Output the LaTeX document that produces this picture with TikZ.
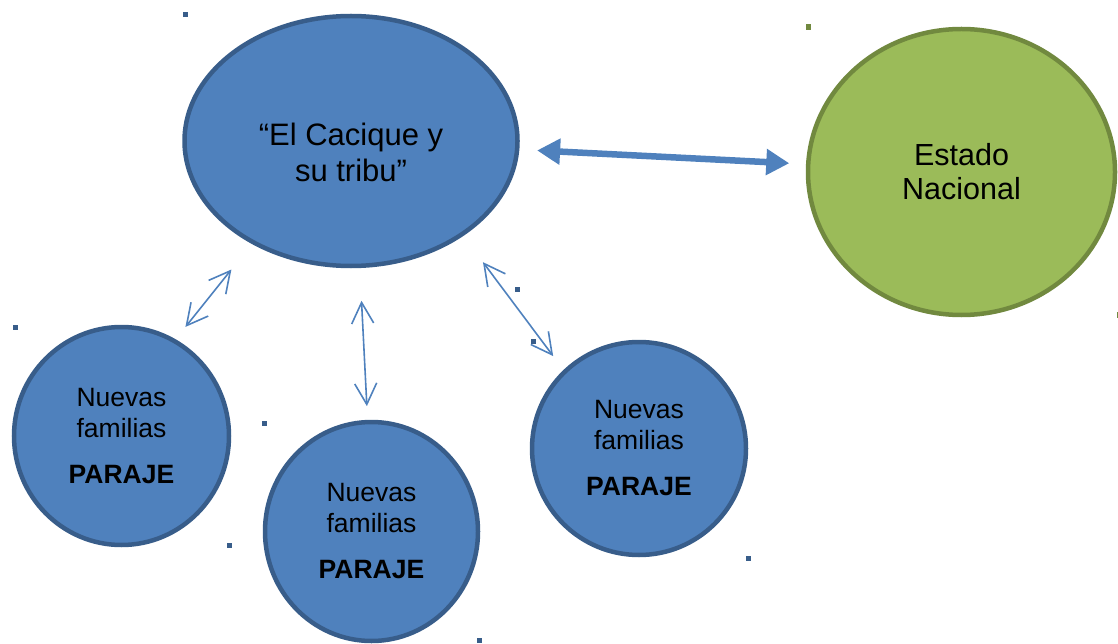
\documentclass[tikz,border=0pt]{standalone}
\usepackage{fontspec}
\setmainfont{Liberation Sans}
\usetikzlibrary{shapes.geometric,arrows.meta}
\definecolor{bluefill}{HTML}{4F81BD}
\definecolor{blueline}{HTML}{385D8A}
\definecolor{greenfill}{HTML}{9BBB59}
\definecolor{greenline}{HTML}{71893F}
\begin{document}
\begin{tikzpicture}[x=1pt,y=-1pt,
  bluebubble/.style={ellipse, draw=blueline, fill=bluefill, line width=4.5pt, inner sep=0pt, outer sep=0pt},
  greenbubble/.style={ellipse, draw=greenline, fill=greenfill, line width=4.5pt, inner sep=0pt, outer sep=0pt},
  smalltext/.style={font=\fontsize{26.5}{31}\selectfont, align=center},
  bigtext/.style={font=\fontsize{31}{36}\selectfont, align=center},
  statetext/.style={font=\fontsize{30.5}{34}\selectfont, align=center},
  thinarrow/.style={draw=bluefill, line width=1.6pt,
    {Straight Barb[length=21pt,width=22pt]}-{Straight Barb[length=21pt,width=22pt]}},
  bigarrow/.style={draw=bluefill, line width=6.5pt,
    {Triangle[length=23pt,width=25pt]}-{Triangle[length=23pt,width=25pt]}},
  bluedot/.style={rectangle, fill=blueline, minimum width=5pt, minimum height=5pt, inner sep=0pt},
  greendot/.style={rectangle, fill=greenline, minimum width=5pt, minimum height=6pt, inner sep=0pt}
]
\useasboundingbox (0,0) rectangle (1118,644);

% main bubbles
\node[bluebubble, minimum width=333pt, minimum height=250pt] (cacique) at (351,141) {};
\node[bigtext] (caciquetext) at (351,152) {“El Cacique y\\su tribu”};
\node[greenbubble, minimum width=307pt, minimum height=286pt, statetext] (estado) at (961.5,172) {Estado\\Nacional};

% small bubbles
\node[bluebubble, minimum width=215pt, minimum height=218pt, smalltext] (nf1) at (121.5,436) {Nuevas\\familias\\[15pt]\textbf{PARAJE}};
\node[bluebubble, minimum width=213pt, minimum height=219pt, smalltext] (nf2) at (371.5,531.5) {Nuevas\\familias\\[15pt]\textbf{PARAJE}};
\node[bluebubble, minimum width=214pt, minimum height=213pt, smalltext] (nf3) at (639,448.5) {Nuevas\\familias\\[15pt]\textbf{PARAJE}};

% connectors
\draw[bigarrow, shorten <=20pt, shorten >=19pt] (cacique) -- (estado);
\draw[thinarrow, shorten <=35pt, shorten >=18pt] (cacique.226.6) -- (nf1.61.7);
\draw[thinarrow, shorten <=35pt, shorten >=16pt] (cacique.274.9) -- (nf2.92);
\draw[thinarrow, shorten <=35pt, shorten >=19.5pt] (cacique.320.4) -- (nf3.134.1);

% stray dots
\node[bluedot] (d1) at (185,15) {};
\node[greendot] (d2) at (808,27) {};
\node[greendot] (d3) at (1119,315) {};
\node[bluedot] (d4) at (15,327) {};
\node[bluedot] (d5) at (264.5,423) {};
\node[bluedot] (d6) at (229,545) {};
\node[bluedot] (d7) at (517,289) {};
\node[bluedot] (d8) at (533,341) {};
\node[bluedot] (d9) at (748,558) {};
\node[bluedot] (d10) at (479,640) {};
\end{tikzpicture}
\end{document}
